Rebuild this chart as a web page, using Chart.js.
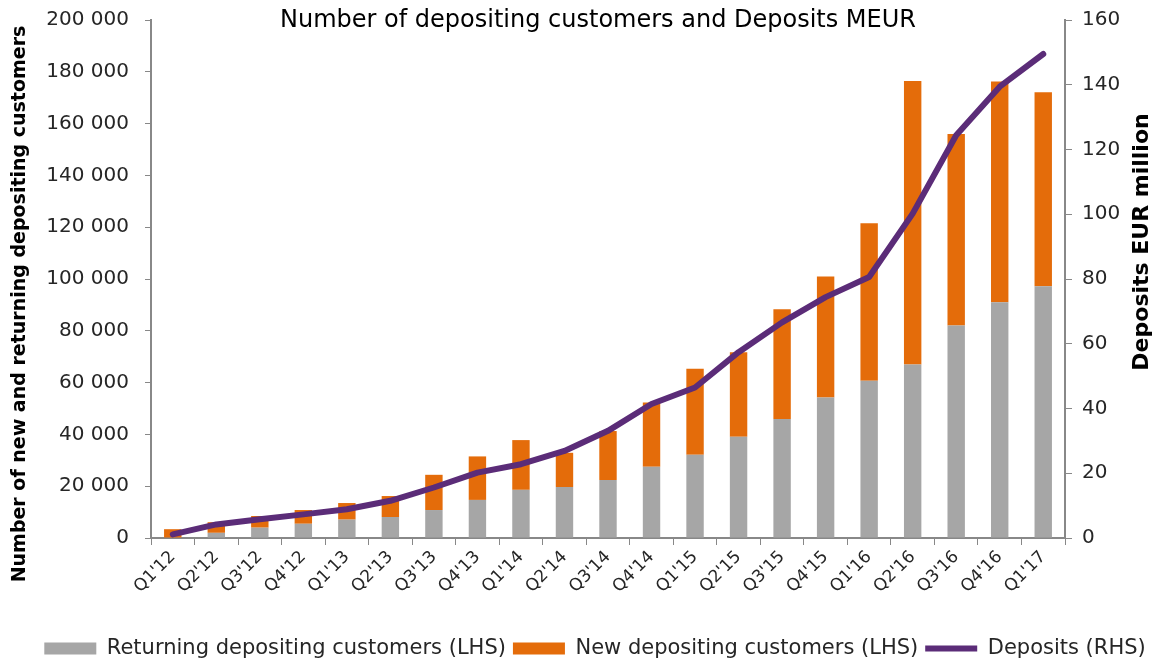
<!DOCTYPE html>
<html>
<head>
<meta charset="utf-8">
<script src="https://cdn.jsdelivr.net/npm/chart.js@4.4.1/dist/chart.umd.min.js"></script>
<style>
  html, body { margin: 0; padding: 0; background: #fff; }
  #wrap { width: 1171px; height: 661px; position: relative; }
</style>
</head>
<body>
<div id="wrap"><canvas id="c" width="1171" height="661"></canvas></div>
<script>
const categories = ["Q1'12","Q2'12","Q3'12","Q4'12","Q1'13","Q2'13","Q3'13","Q4'13","Q1'14","Q2'14","Q3'14","Q4'14","Q1'15","Q2'15","Q3'15","Q4'15","Q1'16","Q2'16","Q3'16","Q4'16","Q1'17"];
const returningCustomers = [0, 2000, 4000, 5500, 7100, 8100, 10800, 14700, 18600, 19700, 22400, 27500, 32100, 39100, 45900, 54200, 60700, 67000, 82000, 91000, 97200];
const newCustomers = [3400, 4100, 4500, 5300, 6400, 8100, 13600, 16800, 19200, 13200, 18900, 24800, 33200, 32600, 42400, 46800, 60800, 109400, 74000, 85300, 74900];
const depositsMEUR = [1.1, 4.2, 5.8, 7.3, 8.9, 11.5, 15.6, 20.2, 22.8, 26.9, 33.1, 41.4, 46.5, 57.4, 66.6, 74.4, 80.6, 100.2, 124.4, 139.4, 149.5];

const FONT = "'DejaVu Sans', sans-serif";
const TEXT = '#262626';
const AXIS = '#888888';

const textPlugin = {
  id: 'extraText',
  afterDraw(chart) {
    const ctx = chart.ctx;
    ctx.save();
    ctx.fillStyle = '#000';
    ctx.textAlign = 'center';
    ctx.textBaseline = 'middle';
    ctx.font = "24px " + FONT;
    ctx.fillText('Number of depositing customers and Deposits MEUR', 598, 21);
    ctx.save();
    ctx.font = "bold 22px " + FONT;
    ctx.translate(1142, 242);
    ctx.rotate(-Math.PI / 2);
    ctx.fillText('Deposits EUR million', 0, 0);
    ctx.restore();
    ctx.save();
    ctx.font = "bold 19px " + FONT;
    ctx.translate(20, 304);
    ctx.rotate(-Math.PI / 2);
    ctx.fillText('Number of new and returning depositing customers', 0, 0);
    ctx.restore();
    ctx.restore();
  }
};

new Chart(document.getElementById('c'), {
  type: 'bar',
  data: {
    labels: categories,
    datasets: [
      { label: 'Returning depositing customers (LHS)', data: returningCustomers, backgroundColor: '#A6A6A6', yAxisID: 'y', order: 1, pointStyle: 'rect', categoryPercentage: 1, barPercentage: 0.4 },
      { label: 'New depositing customers (LHS)', data: newCustomers, backgroundColor: '#E46C0A', yAxisID: 'y', order: 1, pointStyle: 'rect', categoryPercentage: 1, barPercentage: 0.4 },
      { type: 'line', label: 'Deposits (RHS)', data: depositsMEUR, borderColor: '#5B2C78', backgroundColor: '#5B2C78', borderWidth: 6, pointRadius: 0, pointStyle: 'line', tension: 0, borderCapStyle: 'round', borderJoinStyle: 'round', yAxisID: 'y1', order: 0 }
    ]
  },
  options: {
    responsive: false,
    animation: false,
    devicePixelRatio: 1,
    layout: { padding: { left: 36, right: 17, top: 20, bottom: -8 } },
    plugins: {
      tooltip: { enabled: false },
      legend: {
        position: 'bottom',
        labels: {
          sort: (a, b) => a.datasetIndex - b.datasetIndex,
          usePointStyle: true,
          pointStyleWidth: 52,
          boxHeight: 12,
          padding: 7,
          color: TEXT,
          font: { family: FONT, size: 21 }
        }
      }
    },
    scales: {
      x: {
        stacked: true,
        offset: true,
        afterFit: s => { s.height = 93; },
        grid: { display: true, drawOnChartArea: false, drawTicks: true, tickLength: 7, color: AXIS, offset: true },
        border: { display: true, color: AXIS, width: 2 },
        ticks: { color: TEXT, font: { family: FONT, size: 17 }, maxRotation: 45, minRotation: 45, padding: 2, autoSkip: false }
      },
      y: {
        stacked: true,
        position: 'left',
        min: 0, max: 200000,
        afterFit: s => { s.paddingTop = 0; s.width = 115; },
        grid: { display: true, drawOnChartArea: false, drawTicks: true, tickLength: 6, color: AXIS },
        border: { display: true, color: AXIS, width: 2 },
        ticks: {
          stepSize: 20000,
          color: TEXT,
          padding: 16,
          font: { family: FONT, size: 20 },
          callback: v => v === 0 ? '0' : String(v).replace(/\B(?=(\d{3})+(?!\d))/g, ' ')
        }
      },
      y1: {
        position: 'right',
        min: 0, max: 160,
        afterFit: s => { s.paddingTop = 0; s.width = 89; },
        grid: { display: true, drawOnChartArea: false, drawTicks: true, tickLength: 7, color: AXIS },
        border: { display: true, color: AXIS, width: 2 },
        ticks: { stepSize: 20, color: TEXT, padding: 10, font: { family: FONT, size: 20 } }
      }
    }
  },
  plugins: [textPlugin]
});
</script>
</body>
</html>
